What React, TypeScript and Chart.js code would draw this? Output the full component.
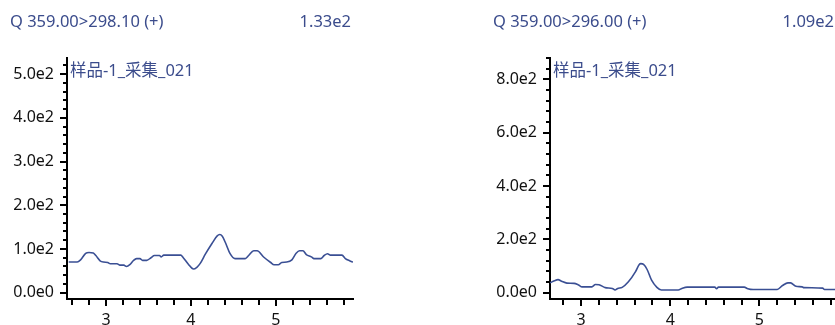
import { useEffect, useRef } from "react";
import { Chart, registerables } from "chart.js";

Chart.register(...registerables);

// ---- shared labels ----
const SAMPLE_NAME = "样品-1_采集_021";
const X_MAJOR = [3, 4, 5];
const X_MINOR_PER_UNIT = 5; // minor ticks every 0.2 min

// ---- left trace: Q 359.00 > 298.10 ----
const LEFT_TRANSITION = "Q 359.00>298.10 (+)";
const LEFT_RT = [
  2.56, 2.66, 2.7, 2.76, 2.8, 2.85, 2.88, 2.93, 2.97, 3.02, 3.05, 3.13, 3.16, 3.21, 3.24,
  3.28, 3.32, 3.36, 3.4, 3.43, 3.48, 3.53, 3.57, 3.63, 3.65, 3.68, 3.88, 3.91, 3.97, 4.03,
  4.07, 4.11, 4.17, 4.25, 4.31, 4.34, 4.37, 4.41, 4.46, 4.52, 4.64, 4.68, 4.74, 4.78, 4.86,
  4.94, 4.98, 5.03, 5.07, 5.13, 5.19, 5.24, 5.28, 5.32, 5.36, 5.42, 5.45, 5.53, 5.57, 5.61,
  5.64, 5.78, 5.82, 5.87, 5.91,
];
const LEFT_INTENSITY = [
  70, 70, 75, 90, 92, 91, 85, 73, 70, 69, 66, 66, 63, 63, 60,
  64, 73, 78, 78, 74, 74, 80, 85, 85, 82, 86, 86, 80, 65, 54,
  58, 67, 88, 113, 130, 133, 129, 113, 90, 78, 78, 85, 96, 96, 81,
  69, 64, 64, 69, 70, 75, 90, 96, 96, 87, 82, 78, 78, 85, 89,
  86, 86, 78, 73, 70,
];
const LEFT_X_RANGE = [2.54, 5.91];
const LEFT_Y_RANGE = [-14.5, 537];
const LEFT_Y_MAJOR = [0, 100, 200, 300, 400, 500];
const LEFT_Y_MINOR_STEP = 20;

// ---- right trace: Q 359.00 > 296.00 ----
const RIGHT_TRANSITION = "Q 359.00>296.00 (+)";
const RIGHT_RT = [
  2.65, 2.7, 2.74, 2.78, 2.84, 2.92, 2.97, 3.01, 3.12, 3.16, 3.2, 3.27, 3.35, 3.38, 3.41,
  3.46, 3.53, 3.61, 3.65, 3.67, 3.7, 3.74, 3.79, 3.85, 3.9, 4.09, 4.13, 4.19, 4.5, 4.52,
  4.54, 4.83, 4.87, 4.93, 5.2, 5.26, 5.32, 5.35, 5.41, 5.48, 5.5, 5.71, 5.73, 5.86,
];
const RIGHT_INTENSITY = [
  37, 45, 49, 43, 36, 35, 29, 22, 22, 31, 30, 19, 16, 10, 16,
  20, 41, 79, 105, 109, 106, 87, 47, 20, 10, 10, 16, 21, 21, 15,
  21, 21, 15, 12, 12, 27, 37, 37, 24, 22, 19, 17, 12, 12,
];
const RIGHT_X_RANGE = [2.65, 5.86];
const RIGHT_Y_RANGE = [-23.6, 880];
const RIGHT_Y_MAJOR = [0, 200, 400, 600, 800];
const RIGHT_Y_MINOR_STEP = 40;

const TEXT_BLUE = "#3b4c8c";
const LINE_BLUE = "#3a4f94";
const AXIS_COLOR = "#000000";
const FONT_FAMILY = '"Noto Sans", "Noto Sans CJK SC", sans-serif';

const fmtExp = (v: number, digits: number) =>
  v.toExponential(digits).replace("+", "");

type PanelSpec = {
  transition: string;
  rt: number[];
  intensity: number[];
  xRange: number[];
  yRange: number[];
  yMajor: number[];
  yMinorStep: number;
};

// Draws the tick marks (long on labelled ticks, short on minor ones) and the panel texts.
const panelDecor = {
  id: "panelDecor",
  afterDraw(chart: any, _args: any, opts: any) {
    const { ctx, chartArea } = chart;
    const xs = chart.scales.x;
    const ys = chart.scales.y;
    ctx.save();
    ctx.strokeStyle = AXIS_COLOR;
    ctx.lineWidth = 2;
    ctx.beginPath();
    ys.ticks.forEach((t: any) => {
      const p = Math.round(ys.getPixelForValue(t.value));
      const len = opts.yMajor.includes(t.value) ? 7 : 4;
      ctx.moveTo(chartArea.left - len, p);
      ctx.lineTo(chartArea.left, p);
    });
    xs.ticks.forEach((t: any) => {
      const p = Math.round(xs.getPixelForValue(t.value));
      const len = Number.isInteger(t.value) ? 7 : 6;
      ctx.moveTo(p, chartArea.bottom);
      ctx.lineTo(p, chartArea.bottom + len);
    });
    ctx.stroke();

    ctx.fillStyle = TEXT_BLUE;
    ctx.font = `16.5px ${FONT_FAMILY}`;
    ctx.textBaseline = "middle";
    ctx.textAlign = "left";
    ctx.fillText(opts.transition, chartArea.left - 57, 22);
    ctx.fillText(SAMPLE_NAME, chartArea.left + 3, 71);
    ctx.textAlign = "right";
    ctx.fillText(opts.peak, chartArea.right - 2, 22);
    ctx.restore();
  },
};

function buildChart(canvas: HTMLCanvasElement, spec: PanelSpec) {
  const points = spec.rt.map((x, i) => ({ x, y: spec.intensity[i] }));
  const peak = fmtExp(Math.max(...spec.intensity), 2);
  const [xMin, xMax] = spec.xRange;
  const [yMin, yMax] = spec.yRange;

  const xTicks: number[] = [];
  for (
    let k = Math.ceil(xMin * X_MINOR_PER_UNIT - 1e-9);
    k <= Math.floor(xMax * X_MINOR_PER_UNIT + 1e-9);
    k++
  ) {
    xTicks.push(k / X_MINOR_PER_UNIT);
  }
  const yTicks: number[] = [];
  for (
    let k = Math.ceil(yMin / spec.yMinorStep);
    k <= Math.floor(yMax / spec.yMinorStep);
    k++
  ) {
    yTicks.push(k * spec.yMinorStep);
  }

  const tickFont = { family: FONT_FAMILY, size: 16 };

  return new Chart(canvas, {
    type: "line",
    data: {
      datasets: [
        {
          data: points,
          borderColor: LINE_BLUE,
          borderWidth: 1.6,
          pointRadius: 0,
          cubicInterpolationMode: "monotone",
          fill: false,
        },
      ],
    },
    options: {
      responsive: false,
      animation: false,
      events: [],
      layout: { padding: { top: 58, right: 17, left: 0, bottom: 0 } },
      plugins: {
        legend: { display: false },
        tooltip: { enabled: false },
        panelDecor: {
          transition: spec.transition,
          peak,
          yMajor: spec.yMajor,
        },
      } as any,
      scales: {
        x: {
          type: "linear",
          min: xMin,
          max: xMax,
          afterFit: (s: any) => {
            s.height = 46;
          },
          afterBuildTicks: (s: any) => {
            s.ticks = xTicks.map((value) => ({ value }));
          },
          grid: { display: true, drawOnChartArea: false, drawTicks: false, color: "transparent" },
          border: { display: true, color: AXIS_COLOR, width: 2 },
          ticks: {
            autoSkip: false,
            maxRotation: 0,
            padding: 12,
            color: "#111111",
            font: tickFont,
            callback: (v: any) => (X_MAJOR.includes(Number(v)) ? String(v) : ""),
          },
        },
        y: {
          type: "linear",
          min: yMin,
          max: yMax,
          afterFit: (s: any) => {
            s.width = 67;
          },
          afterBuildTicks: (s: any) => {
            s.ticks = yTicks.map((value) => ({ value }));
          },
          grid: { display: true, drawOnChartArea: false, drawTicks: false, color: "transparent" },
          border: { display: true, color: AXIS_COLOR, width: 2 },
          ticks: {
            autoSkip: false,
            padding: 13,
            color: "#111111",
            font: tickFont,
            callback: (v: any) =>
              spec.yMajor.includes(Number(v)) ? fmtExp(Number(v), 1) : "",
          },
        },
      },
    },
    plugins: [panelDecor],
  } as any);
}

const LEFT_SPEC: PanelSpec = {
  transition: LEFT_TRANSITION,
  rt: LEFT_RT,
  intensity: LEFT_INTENSITY,
  xRange: LEFT_X_RANGE,
  yRange: LEFT_Y_RANGE,
  yMajor: LEFT_Y_MAJOR,
  yMinorStep: LEFT_Y_MINOR_STEP,
};

const RIGHT_SPEC: PanelSpec = {
  transition: RIGHT_TRANSITION,
  rt: RIGHT_RT,
  intensity: RIGHT_INTENSITY,
  xRange: RIGHT_X_RANGE,
  yRange: RIGHT_Y_RANGE,
  yMajor: RIGHT_Y_MAJOR,
  yMinorStep: RIGHT_Y_MINOR_STEP,
};

export default function App() {
  const leftRef = useRef<HTMLCanvasElement>(null);
  const rightRef = useRef<HTMLCanvasElement>(null);

  useEffect(() => {
    const charts: Chart[] = [];
    if (leftRef.current) charts.push(buildChart(leftRef.current, LEFT_SPEC));
    if (rightRef.current) charts.push(buildChart(rightRef.current, RIGHT_SPEC));
    return () => charts.forEach((c) => c.destroy());
  }, []);

  return (
    <div
      style={{
        position: "fixed",
        left: 0,
        top: 0,
        width: 835,
        height: 325,
        overflow: "hidden",
        background: "#ffffff",
      }}
    >
      <canvas
        ref={leftRef}
        width={370}
        height={345}
        style={{ position: "absolute", left: 0, top: 0 }}
      />
      <canvas
        ref={rightRef}
        width={370}
        height={345}
        style={{ position: "absolute", left: 483, top: 0 }}
      />
    </div>
  );
}
